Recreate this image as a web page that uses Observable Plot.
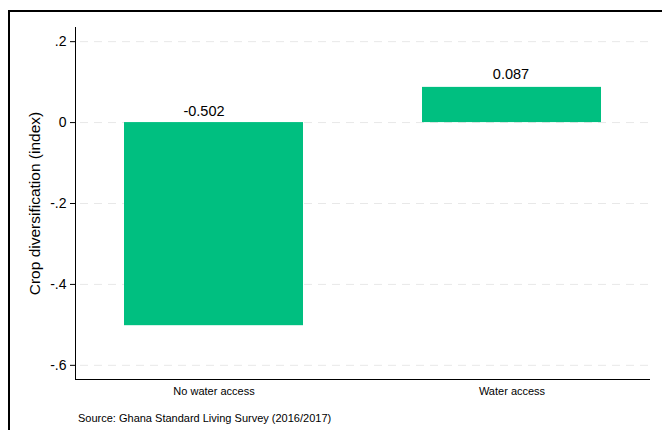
<!DOCTYPE html>
<html>
<head>
<meta charset="utf-8">
<script src="https://cdn.jsdelivr.net/npm/d3@7"></script>
<script src="https://cdn.jsdelivr.net/npm/@observablehq/plot@0.6"></script>
<style>
  html, body { margin: 0; padding: 0; background: #fff; }
  body { width: 662px; height: 430px; overflow: hidden; position: relative; font-family: "Liberation Sans", Arial, sans-serif; }
  #border { position: absolute; left: 8px; top: 10px; width: 700px; height: 460px; border-left: 2px solid #000; border-top: 2px solid #000; }
  #chart { position: absolute; left: 0; top: 0; }
  #caption { position: absolute; left: 78px; top: 412px; font-size: 11px; color: #000; white-space: nowrap; }
  #chart svg { overflow: visible; }
  g[aria-label="y-axis label"] text { font-size: 15.5px; }
  g[aria-label="y-axis tick label"] text { font-size: 14px; }
  g[aria-label="x-axis tick label"] text { font-size: 11px; }
</style>
</head>
<body>
<div id="border"></div>
<div id="chart"></div>
<div id="caption">Source: Ghana Standard Living Survey (2016/2017)</div>
<script>
const categories = ["No water access", "Water access"];
const values = [-0.502, 0.087];
const valueLabels = ["-0.502", "0.087"];
const yTicks = [0.2, 0, -0.2, -0.4, -0.6];
const yTickLabels = [".2", "0", "-.2", "-.4", "-.6"];
const yDomain = [-0.635, 0.235];
const yLabel = "Crop diversification (index)";
const barColor = "#00bf80";

const data = categories.map((c, i) => ({category: c, value: values[i], label: valueLabels[i]}));

const chart = Plot.plot({
  width: 662,
  height: 405,
  marginLeft: 75,
  marginRight: 13,
  marginTop: 27,
  marginBottom: 26,
  style: {fontFamily: "'Liberation Sans', Arial, sans-serif", color: "#000", background: "transparent"},
  x: {domain: categories, paddingInner: 0.4, paddingOuter: 0.163, label: null},
  y: {domain: yDomain, label: null},
  marks: [
    Plot.ruleY(yTicks, {stroke: "#e8e8e8", strokeDasharray: "8,6", strokeWidth: 1, insetLeft: 5, insetRight: 1}),
    Plot.barY(data, {x: "category", y: "value", fill: barColor}),
    Plot.text(data.filter(d => d.value < 0), {x: "category", y: 0, text: "label", dx: -10, dy: -7, lineAnchor: "bottom", fontSize: 14.5, fill: "#000"}),
    Plot.text(data.filter(d => d.value >= 0), {x: "category", y: "value", text: "label", dx: -1, dy: -8, lineAnchor: "bottom", fontSize: 14.5, fill: "#000"}),
    Plot.axisY({ticks: yTicks, tickFormat: (d) => yTickLabels[yTicks.indexOf(d)], tickSize: 5, tickPadding: 4, label: yLabel, labelAnchor: "center", labelOffset: 47, labelArrow: "none"}),
    Plot.axisX({tickSize: 0, tickPadding: 8, label: null}),
    Plot.frame({anchor: "left", stroke: "#000"}),
    Plot.frame({anchor: "bottom", stroke: "#000"})
  ]
});
document.getElementById("chart").appendChild(chart);
</script>
</body>
</html>
